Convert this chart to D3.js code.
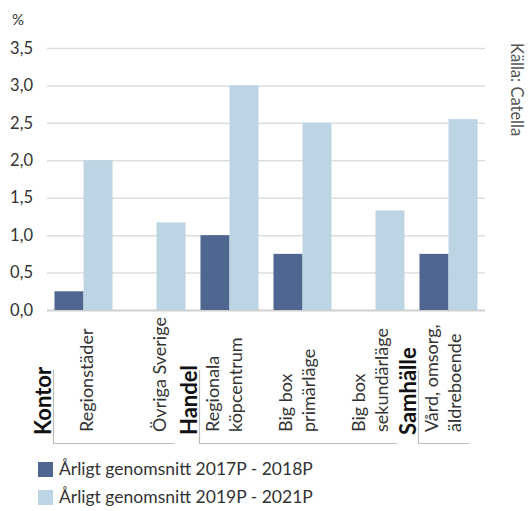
<!DOCTYPE html>
<html><head><meta charset="utf-8">
<script src="https://cdn.jsdelivr.net/npm/d3@7"></script>
<style>body{margin:0;background:#fff}svg{display:block;font-family:Lato,"Open Sans",sans-serif}</style>
</head><body><svg id="c" width="528" height="511"></svg>
<script>
const categories = [["Regionstäder"],["Övriga Sverige"],["Regionala","köpcentrum"],["Big box","primärläge"],["Big box","sekundärläge"],["Vård, omsorg,","äldreboende"]];
const groups = [{name:"Kontor",from:0,to:1},{name:"Handel",from:2,to:4},{name:"Samhälle",from:5,to:5}];
const series1 = [0.25, null, 1.0, 0.75, null, 0.75];
const series2 = [2.0, 1.17, 3.0, 2.5, 1.33, 2.55];
const seriesNames = ["Årligt genomsnitt 2017P - 2018P","Årligt genomsnitt 2019P - 2021P"];
const colors = ["#4f6690","#bdd4e4"];
const yTicks = [0,0.5,1,1.5,2,2.5,3,3.5];

const svg = d3.select("#c");
const x = d3.scaleBand().domain(d3.range(categories.length)).range([47,485]).paddingInner(0.205).paddingOuter(0.1025);
const x1 = d3.scaleBand().domain([0,1]).range([0,x.bandwidth()]);
const y = d3.scaleLinear().domain([0,3.5]).range([310,48]);
const fmt = d => d3.format(".1f")(d).replace(".",",");

// gridlines
svg.append("g").selectAll("line").data(yTicks).join("line")
  .attr("x1",47).attr("x2",485).attr("y1",d=>y(d)+0.5).attr("y2",d=>y(d)+0.5)
  .attr("stroke",d=>d===0?"#cfcfcf":"#dedede").attr("stroke-width",d=>d===0?2:1.5);

// y axis labels
const yAx = svg.append("g").attr("transform","translate(33,0)")
  .call(d3.axisLeft(y).tickValues(yTicks).tickFormat(fmt).tickSize(0).tickPadding(0));
yAx.select(".domain").remove();
yAx.selectAll("text").attr("font-size",16.5).attr("fill","#333").attr("font-family","Lato,sans-serif");

svg.append("text").attr("x",12).attr("y",25).attr("font-size",15).attr("fill","#333").text("%");

// bars
[series1,series2].forEach((s,si)=>{
  svg.append("g").selectAll("rect").data(s.map((v,i)=>({v,i})).filter(d=>d.v!=null)).join("rect")
    .attr("x",d=>x(d.i)+x1(si)).attr("width",x1.bandwidth())
    .attr("y",d=>y(d.v)).attr("height",d=>y(0)-y(d.v)).attr("fill",colors[si]);
});

// category labels
const catLast = [];
categories.forEach((lines,i)=>{
  const n = lines.length, lh = 22.5;
  const cx = x(i)+x.bandwidth()/2 + (n===1 ? 4 : -4);
  lines.forEach((t,j)=>{
    const off = (j-(n-1)/2)*lh;
    svg.append("text").attr("transform",`translate(${cx+off+5},432) rotate(-90)`)
      .attr("text-anchor","start").attr("font-size",18).attr("fill","#333").text(t);
  });
  catLast[i] = cx + ((n-1)/2)*lh + 5;
});

// group labels and brackets
groups.forEach(g=>{
  const left = x(g.from) - x.step()*x.paddingInner()/2;
  const right = catLast[g.to] + 9;
  svg.append("text").attr("transform",`translate(${left+4},435) rotate(-90)`)
    .attr("font-size",22).attr("font-weight","bold").attr("fill","#111").text(g.name);
  svg.append("path").attr("d",`M${left+6.5},370V443.5H${right}`).attr("fill","none").attr("stroke","#bdbdbd").attr("stroke-width",1.2);
});

// legend
seriesNames.forEach((n,i)=>{
  const yy = 462 + i*28;
  svg.append("rect").attr("x",38).attr("y",yy).attr("width",15).attr("height",15).attr("fill",colors[i]);
  svg.append("text").attr("x",59).attr("y",yy+13).attr("font-size",17.5).attr("fill","#333").text(n);
});

// source
svg.append("text").attr("transform","translate(511,43) rotate(90)").attr("font-size",16.5).attr("fill","#555").text("Källa: Catella");
</script></body></html>
